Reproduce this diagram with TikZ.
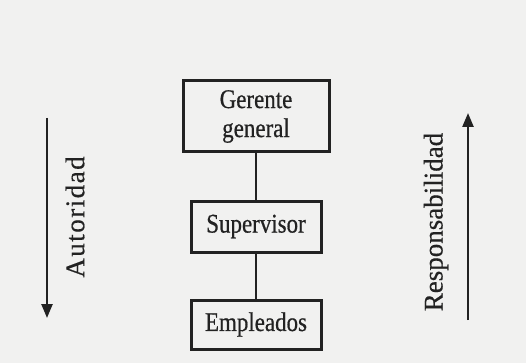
\documentclass[tikz,border=0pt]{standalone}
\usepackage{fontspec}
\setmainfont{Liberation Serif}
\newfontfamily\boxfont[FakeStretch=0.85,FakeBold=0.6]{Liberation Serif}
\newfontfamily\sidefont[FakeBold=0.5]{Liberation Serif}
\newfontfamily\widesidefont[FakeBold=0.5,LetterSpace=5.5]{Liberation Serif}
\usetikzlibrary{arrows.meta}
\definecolor{paper}{HTML}{F1F1F0}
\definecolor{ink}{HTML}{222222}
\begin{document}
\begin{tikzpicture}[x=1pt,y=-1pt,
  rankbox/.style={draw=ink, line width=3pt, fill=paper, inner sep=0pt,
    align=center, font=\boxfont\fontsize{27}{29}\selectfont, text=ink},
  link/.style={draw=ink, line width=2.4pt},
  flow/.style={draw=ink, line width=2.4pt, -{Triangle[length=14pt,width=11pt]}},
  sidelabel/.style={rotate=90, font=\sidefont\fontsize{27}{29}\selectfont, text=ink}]
  % paper
  \fill[paper] (0,0) rectangle (526,363);
  \useasboundingbox (0,0) rectangle (526,363);

  % the three levels of the hierarchy
  \node[rankbox, minimum width=146pt, minimum height=71pt] (gg) at (256,116.5) {Gerente\\general};
  \node[rankbox, minimum width=130pt, minimum height=51pt] (sup) at (256,226.5) {Supervisor};
  \node[rankbox, minimum width=130pt, minimum height=49pt] (emp) at (256,324.5) {Empleados};

  \draw[link] (gg) -- (sup);
  \draw[link] (sup) -- (emp);

  % authority flows down, responsibility flows up
  \coordinate (autTop) at (47,118);
  \coordinate (autBot) at (47,318);
  \draw[flow] (autTop) -- (autBot);
  \node[sidelabel, font=\widesidefont\fontsize{27}{29}\selectfont] (aut) at (75,217) {Autoridad};

  \coordinate (resBot) at (468,320);
  \coordinate (resTop) at (468,113);
  \draw[flow] (resBot) -- (resTop);
  \node[sidelabel] (res) at (436,222) {Responsabilidad};
\end{tikzpicture}
\end{document}
